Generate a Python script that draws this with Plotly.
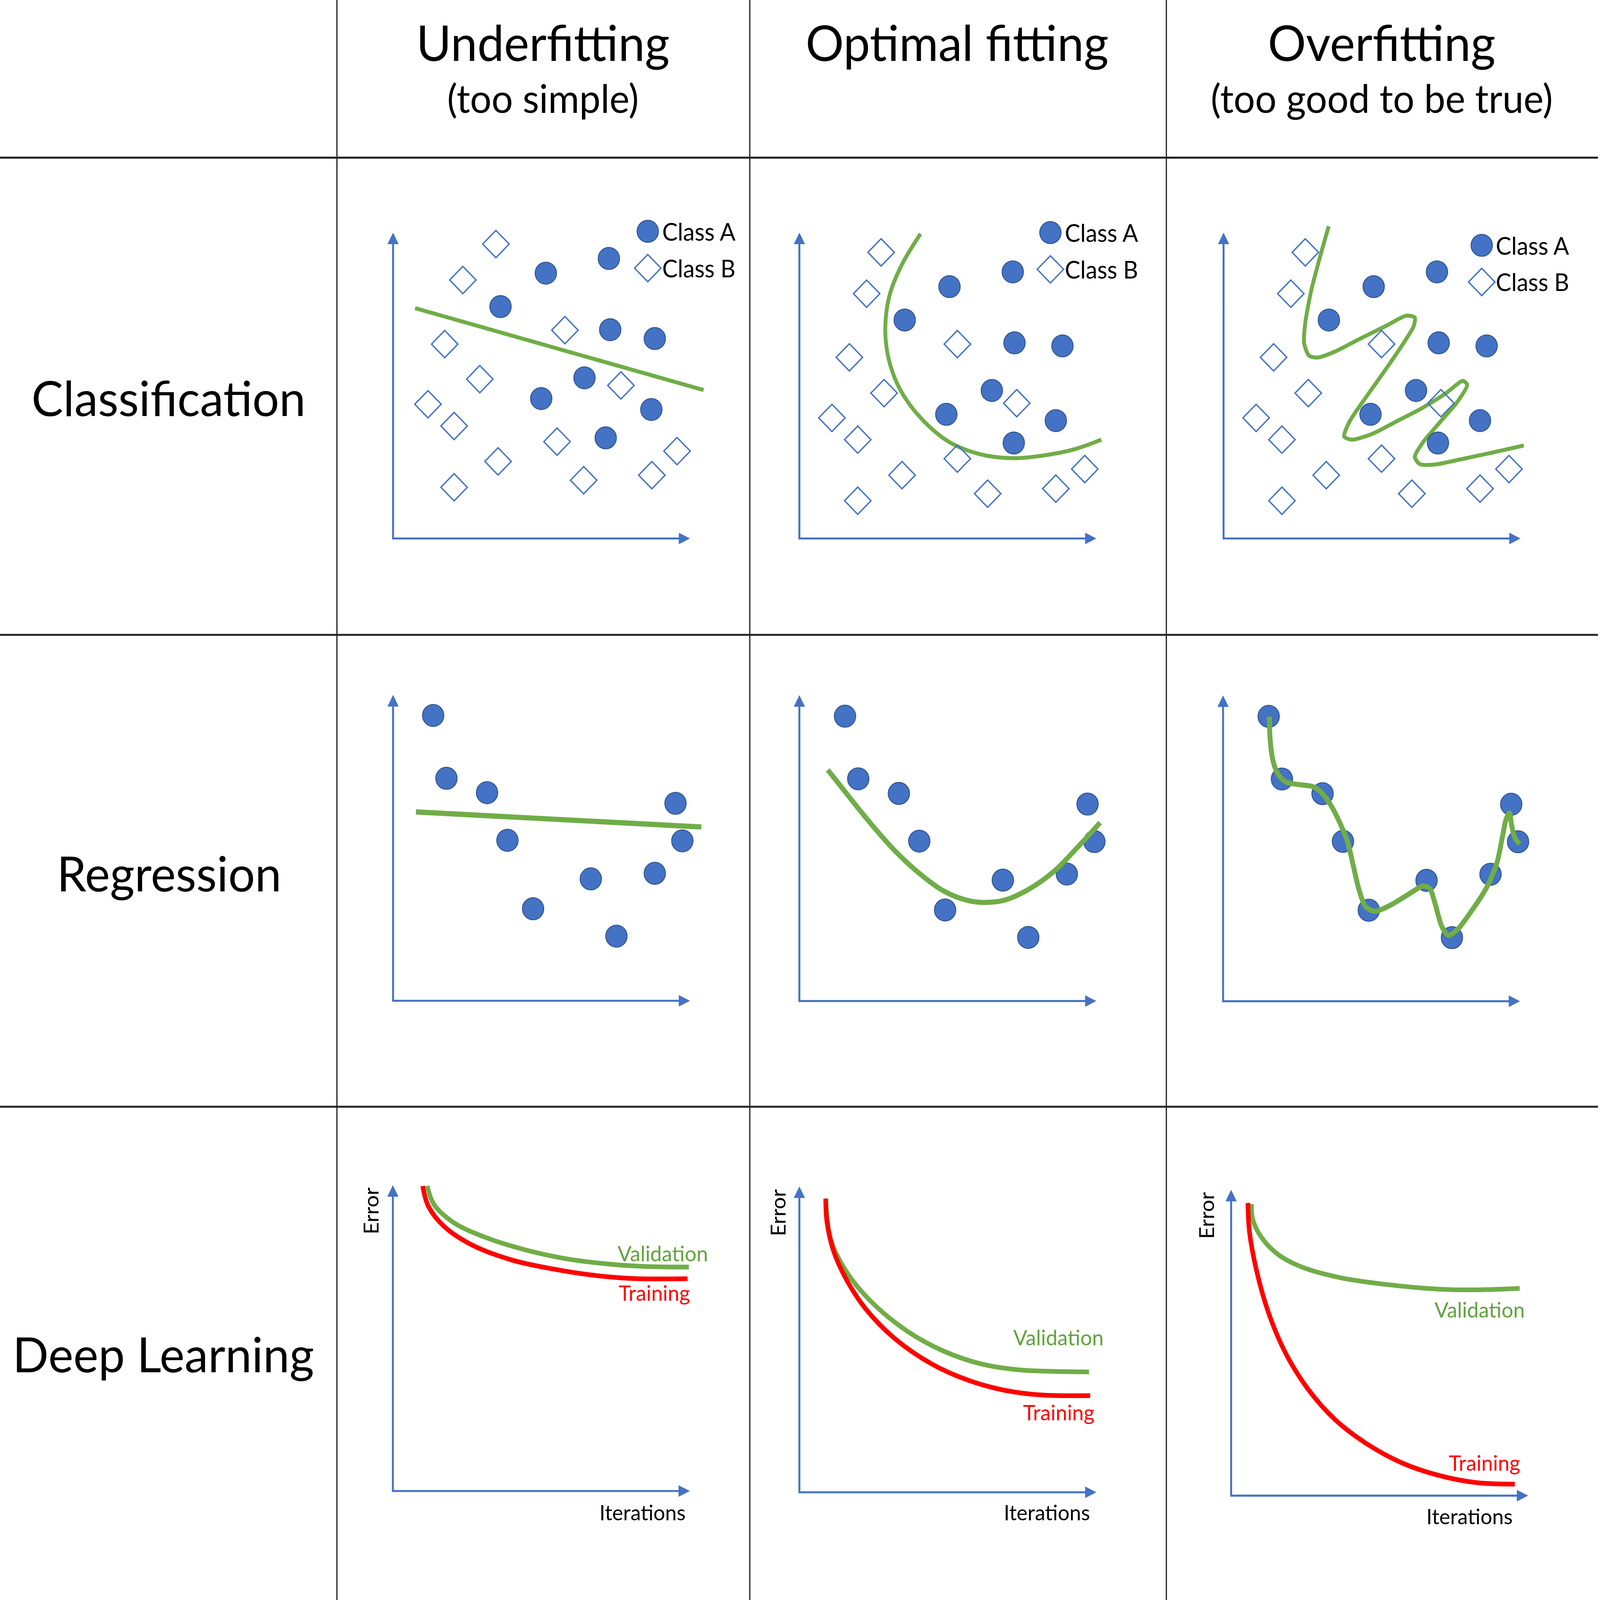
import plotly.graph_objects as go

# ---------------- canvas ----------------
W, H = 4562, 4429
REF_W = 1568.0
REF_H = REF_W * H / W
U = W / REF_W  # screen px per local unit

BLUE = "#4472C4"
BLUE_EDGE = "#2F528F"
GREEN = "#70AD47"
GREEN_TXT = "#62A33D"
RED = "#FF0000"
GRID = "#262626"
FONT = "Lato, 'Open Sans', sans-serif"

# ---------------- texts ----------------
col_titles = ["Underfitting", "Optimal fitting", "Overfitting"]
col_subtitles = ["(too simple)", "", "(too good to be true)"]
row_titles = ["Classification", "Regression", "Deep Learning"]
legend_labels = ["Class A", "Class B"]
dl_labels = ["Validation", "Training", "Iterations", "Error"]

# ---------------- data (local panel units) ----------------
# Classification - underfitting
cu_a_x = [149.7, 211.5, 105.3, 212.8, 256.5, 187.6, 145.2, 253.1, 208.4]
cu_a_y = [252.4, 266.4, 220.6, 198.6, 190.2, 152.8, 133.1, 122.7, 95.7]
cu_b_x = [100.8, 68.4, 50.6, 168.4, 85.0, 34.2, 59.8, 223.3, 160.7, 102.9, 59.8, 186.8, 253.6, 278.3]
cu_b_y = [280.1, 245.9, 184.9, 198.2, 151.6, 127.7, 107.0, 145.6, 92.1, 73.3, 48.7, 55.4, 60.2, 83.1]
cu_line_x = [21.6, 304.3]
cu_line_y = [219.1, 141.2]

# Classification - optimal & overfitting share the same points
cf_a_x = [209.1, 147.1, 103.2, 210.8, 257.8, 188.6, 144.0, 251.3, 210.1]
cf_a_y = [253.6, 239.6, 207.8, 186.1, 183.2, 140.8, 118.1, 112.1, 90.8]
cf_b_x = [80.1, 65.9, 49.0, 154.8, 83.0, 31.9, 57.2, 213.0, 154.8, 100.6, 57.2, 184.5, 251.3, 279.7]
cf_b_y = [272.2, 232.9, 172.3, 184.9, 138.3, 114.7, 94.0, 128.7, 75.9, 60.2, 35.9, 42.6, 47.4, 66.0]
co_curve_x = [118.7, 100.6, 88.5, 84.2, 87.3, 98.2, 117.5, 146.4, 177.8, 209.1, 238.0, 269.4, 295.9]
co_curve_y = [289.8, 260.8, 231.9, 200.5, 171.6, 142.7, 116.2, 92.0, 80.0, 76.4, 78.8, 84.8, 94.0]
cv_curve_x = [103.0, 94.6, 86.1, 80.1, 78.9, 83.7, 92.1, 109.0, 133.1, 159.7, 178.9, 187.4, 186.2,
              176.5, 159.7, 140.4, 123.5, 118.2, 125.9, 145.2, 169.3, 193.4, 217.5, 234.4, 238.7,
              229.6, 212.7, 195.8, 187.4, 192.2, 207.9, 229.6, 260.9, 294.2]
cv_curve_y = [297.0, 268.1, 236.7, 205.4, 186.1, 174.0, 172.1, 177.7, 189.7, 202.5, 211.9, 210.2, 201.8,
              186.1, 162.0, 135.5, 111.3, 96.9, 94.0, 99.3, 111.3, 123.4, 137.9, 149.9, 146.3,
              130.6, 111.3, 92.0, 77.6, 70.8, 70.4, 74.7, 81.2, 88.4]

# Regression
ru_x = [39.3, 52.3, 92.1, 112.1, 137.2, 193.8, 218.9, 256.5, 276.8, 283.5]
ru_y = [271.5, 211.7, 198.0, 152.7, 87.6, 116.0, 61.5, 121.3, 187.9, 152.2]
ru_line_x = [22.4, 302.1]
ru_line_y = [179.7, 165.4]
rf_x = [44.7, 57.7, 97.5, 117.5, 142.8, 199.4, 224.3, 262.1, 282.4, 289.1]
rf_y = [271.0, 211.4, 197.5, 152.1, 86.6, 115.0, 60.5, 120.8, 187.4, 151.7]
ro_curve_x = [27.8, 45.1, 69.2, 93.4, 117.5, 141.6, 165.7, 182.6, 201.9, 226.0, 250.1, 274.2, 294.7]
ro_curve_y = [219.9, 198.7, 169.7, 143.2, 121.5, 104.6, 95.5, 93.8, 96.2, 107.0, 123.9, 148.0, 169.7]
rv_curve_x = [45.5, 46.1, 49.2, 54.0, 61.8, 75.0, 88.1, 96.0, 103.9, 114.4, 122.3, 127.6, 132.9, 139.4,
              148.6, 164.4, 182.8, 196.0, 202.5, 207.8, 214.4, 220.9, 230.2, 243.3, 257.8, 268.3,
              273.6, 277.5, 280.7, 282.8, 285.9, 290.7]
rv_curve_y = [270.7, 249.5, 227.8, 215.8, 208.5, 206.1, 204.2, 198.9, 189.2, 169.9, 150.7, 129.0, 107.3, 90.4,
              85.6, 91.6, 102.4, 109.7, 107.3, 92.8, 71.1, 62.7, 68.7, 85.6, 107.3, 131.4,
              155.5, 173.6, 179.1, 167.5, 155.5, 149.5]

# Deep learning
du_train_x = [29.2, 35.0, 50.8, 77.1, 116.5, 156.0, 195.4, 234.9, 288.8]
du_train_y = [290.2, 270.5, 251.2, 234.3, 219.8, 211.4, 205.4, 202.2, 202.0]
du_val_x = [33.7, 40.2, 58.6, 90.2, 129.6, 169.1, 208.6, 248.0, 290.1]
du_val_y = [290.2, 272.9, 256.0, 241.5, 229.5, 221.1, 216.2, 213.6, 213.1]
do_train_x = [25.8, 27.0, 33.1, 45.1, 64.4, 93.4, 129.5, 165.7, 201.9, 238.0, 285.0]
do_train_y = [279.4, 257.2, 230.7, 204.2, 175.2, 146.3, 122.2, 106.5, 96.9, 92.5, 92.0]
do_val_x = [25.8, 30.9, 45.1, 69.2, 105.4, 141.6, 177.8, 213.9, 250.1, 283.8]
do_val_y = [279.4, 240.3, 211.4, 182.5, 153.5, 134.2, 122.2, 116.6, 115.0, 114.5]
dv_train_x = [16.4, 18.0, 24.8, 36.8, 53.7, 75.4, 101.9, 130.9, 167.0, 203.2, 239.4, 278.0]
dv_train_y = [278.5, 250.8, 214.6, 173.6, 135.0, 101.3, 72.3, 50.6, 31.3, 19.3, 12.5, 10.9]
dv_val_x = [20.0, 21.2, 29.6, 46.5, 70.6, 106.8, 155.0, 203.2, 239.4, 282.8]
dv_val_y = [277.3, 262.8, 245.9, 229.1, 217.0, 207.4, 200.6, 196.5, 195.8, 197.2]

# ---------------- layout geometry (reference frame) ----------------
grid_x = [330.2, 734.8, 1143.0]
grid_y = [150.0, 604.0, 1053.0]
col_centers = [532, 938, 1354]
title_y, subtitle_y = 40, 93
row_label_pos = [(165, 378), (166, 830), (160, 1288)]
origins = [
    [(385.2, 512.3), (783.4, 512.3), (1199.1, 512.3)],
    [(385.2, 952.2), (783.4, 952.4), (1198.6, 952.6)],
    [(385.0, 1418.6), (783.4, 1419.8), (1206.5, 1423.0)],
]
AX_LEN = 291.0
LOC_X = (-40, 330)
LOC_Y = (-40, 320)

fig = go.Figure()


def axis_refs(n):
    return ("x", "y") if n == 1 else (f"x{n}", f"y{n}")


def add_axes(n, ox, oy):
    dx = [(ox + LOC_X[0]) / REF_W, (ox + LOC_X[1]) / REF_W]
    dy = [1 - (oy - LOC_Y[0]) / REF_H, 1 - (oy - LOC_Y[1]) / REF_H]
    xn = "xaxis" if n == 1 else f"xaxis{n}"
    yn = "yaxis" if n == 1 else f"yaxis{n}"
    xr, yr = axis_refs(n)
    fig.update_layout(**{
        xn: dict(domain=dx, range=list(LOC_X), visible=False, anchor=yr, fixedrange=True),
        yn: dict(domain=dy, range=list(LOC_Y), visible=False, anchor=xr, fixedrange=True),
    })
    return xr, yr


def sc(ax, **kw):
    kw.setdefault("hoverinfo", "skip")
    kw.setdefault("showlegend", False)
    kw.setdefault("cliponaxis", False)
    fig.add_trace(go.Scatter(xaxis=ax[0], yaxis=ax[1], **kw))


def arrows(ax):
    head = 32
    back = head * 0.8 / U
    sc(ax, x=[0, 0, AX_LEN - back], y=[AX_LEN - back, 0, 0], mode="lines",
       line=dict(color=BLUE, width=5.5))
    sc(ax, x=[0], y=[AX_LEN], mode="markers",
       marker=dict(symbol="arrow-up", size=head, color=BLUE, line=dict(width=0)))
    sc(ax, x=[AX_LEN], y=[0], mode="markers",
       marker=dict(symbol="arrow-right", size=head, color=BLUE, line=dict(width=0)))


def circles(ax, x, y):
    sc(ax, x=x, y=y, mode="markers",
       marker=dict(symbol="circle", size=61, color=BLUE, line=dict(color=BLUE_EDGE, width=2.5)))


def diamonds(ax, x, y):
    sc(ax, x=x, y=y, mode="markers",
       marker=dict(symbol="diamond-open", size=58, color=BLUE, line=dict(color=BLUE, width=3.8)))


def curve(ax, x, y, color, width, smooth=1.0):
    sc(ax, x=x, y=y, mode="lines",
       line=dict(color=color, width=width, shape="spline", smoothing=smooth))


annotations = []


def text(ax, x, y, s, size, color="black", xanchor="center", angle=0):
    annotations.append(dict(x=x, y=y, xref=ax[0], yref=ax[1], text=s, showarrow=False,
                            xanchor=xanchor, yanchor="middle", textangle=angle,
                            font=dict(family=FONT, size=size, color=color)))


def legend(ax, cx, ya, yb, tx):
    circles(ax, [cx], [ya])
    diamonds(ax, [cx], [yb])
    text(ax, tx, ya, legend_labels[0], 66, xanchor="left")
    text(ax, tx, yb, legend_labels[1], 66, xanchor="left")


n = 0
axes = {}
for r in range(3):
    for c in range(3):
        n += 1
        ox, oy = origins[r][c]
        axes[(r, c)] = add_axes(n, ox, oy)

# Classification
ax = axes[(0, 0)]
curve(ax, cu_line_x, cu_line_y, GREEN, 11)
diamonds(ax, cu_b_x, cu_b_y)
circles(ax, cu_a_x, cu_a_y)
legend(ax, 249.6, 292.2, 257.2, 263)
arrows(ax)

ax = axes[(0, 1)]
curve(ax, co_curve_x, co_curve_y, GREEN, 11)
diamonds(ax, cf_b_x, cf_b_y)
circles(ax, cf_a_x, cf_a_y)
legend(ax, 246.0, 291.0, 256.0, 259.5)
arrows(ax)

ax = axes[(0, 2)]
curve(ax, cv_curve_x, cv_curve_y, GREEN, 11, smooth=0.7)
diamonds(ax, cf_b_x, cf_b_y)
circles(ax, cf_a_x, cf_a_y)
legend(ax, 253.0, 278.9, 244.0, 266)
arrows(ax)

# Regression
ax = axes[(1, 0)]
circles(ax, ru_x, ru_y)
sc(ax, x=ru_line_x, y=ru_line_y, mode="lines", line=dict(color=GREEN, width=14.5))
arrows(ax)

ax = axes[(1, 1)]
circles(ax, rf_x, rf_y)
curve(ax, ro_curve_x, ro_curve_y, GREEN, 14)
arrows(ax)

ax = axes[(1, 2)]
circles(ax, rf_x, rf_y)
curve(ax, rv_curve_x, rv_curve_y, GREEN, 14, smooth=0.8)
arrows(ax)

# Deep learning
dl_sets = [
    (du_val_x, du_val_y, du_train_x, du_train_y,
     (309.8, 226.4), (292.2, 188.5), (287.5, -20.1), (-21.6, 266.6)),
    (do_val_x, do_val_y, do_train_x, do_train_y,
     (298.8, 147.5), (289.9, 75.9), (285.5, -18.9), (-21.2, 265.8)),
    (dv_val_x, dv_val_y, dv_train_x, dv_train_y,
     (288.8, 177.2), (284.0, 31.4), (276.7, -19.3), (-24.6, 266.4)),
]
for c, (vx, vy, tx_, ty_, pv, pt, pi, pe) in enumerate(dl_sets):
    ax = axes[(2, c)]
    curve(ax, vx, vy, GREEN, 13)
    curve(ax, tx_, ty_, RED, 13)
    arrows(ax)
    text(ax, pv[0], pv[1], dl_labels[0], 59, GREEN_TXT, xanchor="right")
    text(ax, pt[0], pt[1], dl_labels[1], 59, RED, xanchor="right")
    text(ax, pi[0], pi[1], dl_labels[2], 59, "black", xanchor="right")
    text(ax, pe[0], pe[1], dl_labels[3], 59, "black", angle=-90)

# Headers and row labels (paper coords)
for c in range(3):
    annotations.append(dict(x=col_centers[c] / REF_W, y=1 - title_y / REF_H, xref="paper", yref="paper",
                            text=col_titles[c], showarrow=False, xanchor="center", yanchor="middle",
                            font=dict(family=FONT, size=136, color="black")))
    if col_subtitles[c]:
        annotations.append(dict(x=col_centers[c] / REF_W, y=1 - subtitle_y / REF_H, xref="paper",
                                yref="paper", text=col_subtitles[c], showarrow=False,
                                xanchor="center", yanchor="middle",
                                font=dict(family=FONT, size=108, color="black")))
for r in range(3):
    x, y = row_label_pos[r]
    annotations.append(dict(x=x / REF_W, y=1 - y / REF_H, xref="paper", yref="paper",
                            text=row_titles[r], showarrow=False, xanchor="center", yanchor="middle",
                            font=dict(family=FONT, size=135, color="black")))

# Table grid
shapes = []
for gx in grid_x:
    shapes.append(dict(type="line", xref="paper", yref="paper", x0=gx / REF_W, x1=gx / REF_W,
                       y0=0, y1=1, line=dict(color=GRID, width=3.5)))
for gy in grid_y:
    shapes.append(dict(type="line", xref="paper", yref="paper", x0=0, x1=1566 / REF_W,
                       y0=1 - gy / REF_H, y1=1 - gy / REF_H, line=dict(color=GRID, width=5.5)))

fig.update_layout(
    width=W, height=H, autosize=False,
    margin=dict(l=0, r=0, t=0, b=0, pad=0),
    paper_bgcolor="white", plot_bgcolor="rgba(0,0,0,0)",
    annotations=annotations, shapes=shapes,
    showlegend=False,
)

# Fit the fixed-size figure to whatever viewport the page is shown in
# (no-op when the viewport already is W x H).
FIT_JS = """
(function(){
  var gd = document.getElementById('{plot_id}');
  document.documentElement.style.margin = '0';
  document.body.style.margin = '0';
  document.body.style.overflow = 'hidden';
  var sx = window.innerWidth / %d, sy = window.innerHeight / %d;
  if (Math.abs(sx - 1) > 0.001 || Math.abs(sy - 1) > 0.001) {
    gd.style.transform = 'scale(' + sx + ',' + sy + ')';
    gd.style.transformOrigin = '0 0';
  }
})();
""" % (W, H)

fig.write_html("out.html", config={"displayModeBar": False}, post_script=FIT_JS)
